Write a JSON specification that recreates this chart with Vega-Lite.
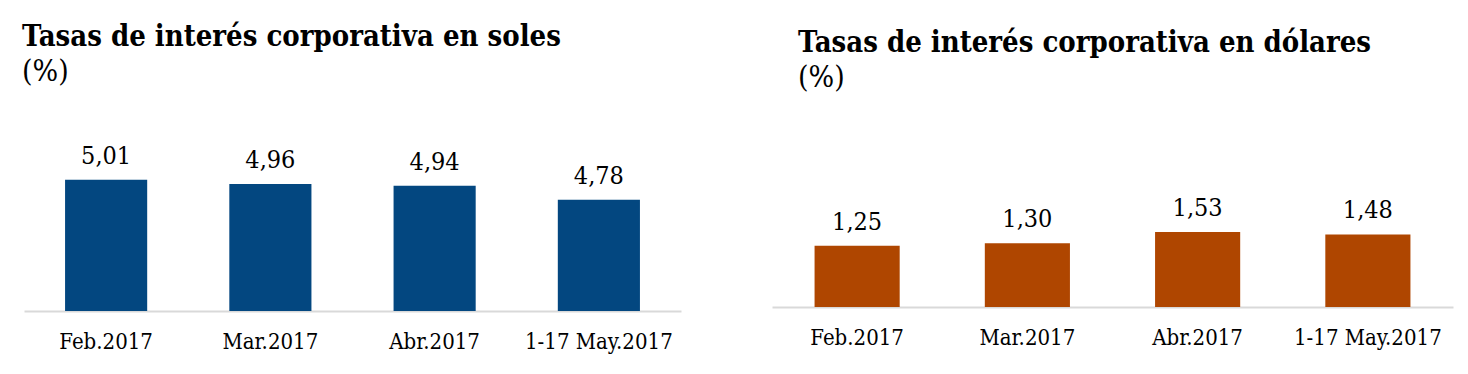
{
  "$schema": "https://vega.github.io/schema/vega-lite/v6.json",
  "padding": {"left": 22, "top": 23, "right": 5, "bottom": 5},
  "spacing": 91,
  "config": {
    "view": {"stroke": null},
    "locale": {"number": {"decimal": ",", "thousands": ".", "grouping": [3], "currency": ["", ""]}},
    "title": {
      "anchor": "start",
      "frame": "group",
      "font": "DejaVu Serif Condensed",
      "fontSize": 29,
      "fontWeight": "bold",
      "color": "#000000",
      "subtitleFont": "DejaVu Serif Condensed",
      "subtitleFontSize": 30,
      "subtitleColor": "#000000",
      "subtitlePadding": 5,
      "offset": 50
    },
    "axisX": {
      "domainColor": "#d9d9d9",
      "domainWidth": 2,
      "ticks": false,
      "labelAngle": 0,
      "labelFont": "DejaVu Serif Condensed",
      "labelFontSize": 22,
      "labelColor": "#000000",
      "labelPadding": 20,
      "title": null,
      "grid": false
    }
  },
  "hconcat": [
    {
      "title": {"text": "Tasas de interés corporativa en soles", "subtitle": "(%)", "dx": -2},
      "data": {"values": [
        {"mes": "Feb.2017", "tasa": 5.01},
        {"mes": "Mar.2017", "tasa": 4.96},
        {"mes": "Abr.2017", "tasa": 4.94},
        {"mes": "1-17 May.2017", "tasa": 4.78}
      ]},
      "width": 657,
      "height": 174,
      "encoding": {
        "x": {"field": "mes", "type": "nominal", "sort": null, "scale": {"paddingInner": 0.5, "paddingOuter": 0.25}},
        "y": {"field": "tasa", "type": "quantitative", "scale": {"domain": [3.5, 5.5], "zero": false, "nice": false}, "axis": null}
      },
      "layer": [
        {"mark": {"type": "bar", "color": "#034780"}, "encoding": {"y2": {"datum": 3.5}}},
        {"mark": {"type": "text", "baseline": "bottom", "dy": -11, "font": "DejaVu Serif Condensed", "fontSize": 25, "color": "#000000"},
         "encoding": {"text": {"field": "tasa", "type": "quantitative", "format": ".2f"}}}
      ]
    },
    {
      "title": {"text": "Tasas de interés corporativa en dólares", "subtitle": "(%)", "dx": 26, "dy": 6},
      "data": {"values": [
        {"mes": "Feb.2017", "tasa": 1.25},
        {"mes": "Mar.2017", "tasa": 1.30},
        {"mes": "Abr.2017", "tasa": 1.53},
        {"mes": "1-17 May.2017", "tasa": 1.48}
      ]},
      "width": 681,
      "height": 170,
      "encoding": {
        "x": {"field": "mes", "type": "nominal", "sort": null, "scale": {"paddingInner": 0.5, "paddingOuter": 0.25}},
        "y": {"field": "tasa", "type": "quantitative", "scale": {"domain": [0, 3.47], "nice": false}, "axis": null}
      },
      "layer": [
        {"mark": {"type": "bar", "color": "#AF4600"}},
        {"mark": {"type": "text", "baseline": "bottom", "dy": -11, "font": "DejaVu Serif Condensed", "fontSize": 25, "color": "#000000"},
         "encoding": {"text": {"field": "tasa", "type": "quantitative", "format": ".2f"}}}
      ]
    }
  ]
}
